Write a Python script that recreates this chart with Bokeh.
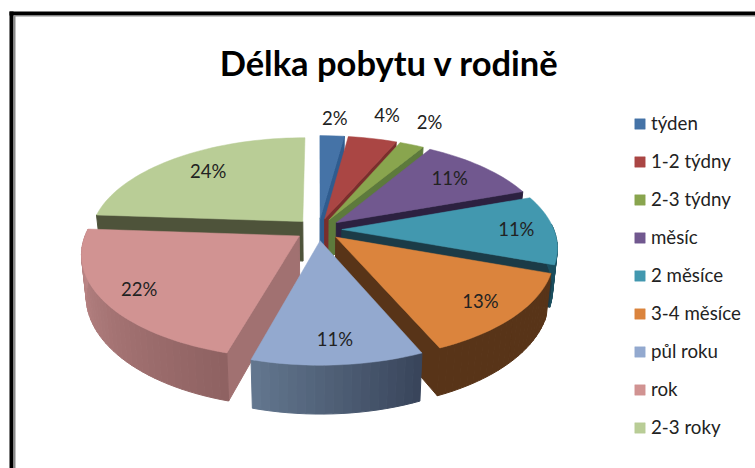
import numpy as np
from bokeh.plotting import figure
from bokeh.models import Range1d, Legend, LegendItem
from bokeh.core.properties import value
from bokeh.embed import file_html
from bokeh.resources import INLINE

# ---- data ----
TITLE = "Délka pobytu v rodině"
categories = ["týden", "1-2 týdny", "2-3 týdny", "měsíc", "2 měsíce", "3-4 měsíce", "půl roku", "rok", "2-3 roky"]
counts = [1, 2, 1, 5, 5, 6, 5, 10, 11]

# ---- colours ----
top_colors = ["#4573A7", "#AA4644", "#89A54E", "#71588F", "#4298AF", "#DB843D", "#93A9CF", "#D19392", "#B9CD96"]
cut_colors = ["#2F5C8F", "#7A2E2C", "#5D7A3C", "#2C2140", "#1B3B47", "#583418", "#5A6D88", "#A17171", "#4E533A"]
rim_start = ["#2F5C8F", "#7A2E2C", "#5D7A3C", "#2C2140", "#1B4F5F", "#583418", "#38445A", "#8E6161", "#4E533A"]
rim_end = ["#2F5C8F", "#7A2E2C", "#5D7A3C", "#2C2140", "#1B4F5F", "#583418", "#63778F", "#C08A8A", "#4E533A"]

# ---- layout: perspective model of the pie (picture pixels) ----
W, H = 755, 468
CX, CY, AX, BY, PERSP, EXPLODE, DEPTH, BOTTOM_SCALE = 318, 229, 212, 100, 0.164, 0.11, 40, 0.98
LABEL_RHO = [1.375, 1.458, 1.445, 0.875, 0.934, 0.938, 0.934, 0.944, 0.870]
LABEL_DA = [0.0, 0.2, -1.3, -0.4, -0.4, 0.2, -0.1, -0.1, 1.6]
TEXT_COLOR = "#222222"
FONT = value("Lato")


def project(X, Y, bottom=False):
    s = 1.0 / (1.0 + PERSP * Y)
    x = AX * s * X
    y = CY - BY * s * Y
    if bottom:
        x *= BOTTOM_SCALE
        y += DEPTH * s
    return CX + x, y


def mix(c1, c2, t):
    a = [int(c1[i:i + 2], 16) for i in (1, 3, 5)]
    b = [int(c2[i:i + 2], 16) for i in (1, 3, 5)]
    return "#%02x%02x%02x" % tuple(int(round(a[k] + (b[k] - a[k]) * t)) for k in range(3))


p = figure(width=W, height=H, output_backend="svg", toolbar_location=None,
           x_range=Range1d(0, W), y_range=Range1d(H, 0), min_border=0,
           outline_line_color=None, background_fill_color="white", border_fill_color="white")
p.axis.visible = False
p.grid.visible = False

# frame of the pasted picture
p.line([9, W], [13, 13], line_color="black", line_width=4)
p.line([13, W], [15.5, 15.5], line_color="#8a8a8a", line_width=1)
p.line([11, 11], [11, H], line_color="black", line_width=4)
p.line([14, 14], [15, H], line_color="#8a8a8a", line_width=2)

total = sum(counts)
edges = np.cumsum([0] + counts) / total * 2 * np.pi
mids = (edges[:-1] + edges[1:]) / 2
order = np.argsort(-np.cos(mids))

tops = {}
for i in order:
    t0, t1, mid = edges[i], edges[i + 1], mids[i]
    ox, oy = EXPLODE * np.sin(mid), EXPLODE * np.cos(mid)
    th = np.linspace(t0, t1, max(3, int(np.degrees(t1 - t0) / 2) + 1))
    rx, ry = ox + np.sin(th), oy + np.cos(th)
    xs, ys = [], []
    colors = []
    # radial cuts facing the viewer
    for ang, vis in ((t0, np.sin(t0) < 0), (t1, np.sin(t1) > 0)):
        if vis:
            ex, ey = ox + np.sin(ang), oy + np.cos(ang)
            a = project(ox, oy)
            b = project(ex, ey)
            c = project(ex, ey, True)
            d = project(ox, oy, True)
            xs.append([a[0], b[0], c[0], d[0]])
            ys.append([a[1], b[1], c[1], d[1]])
            colors.append(cut_colors[i])
    # rim, in short shaded pieces
    for k in range(len(th) - 1):
        if np.cos(th[k]) > 0.05 and np.cos(th[k + 1]) > 0.05:
            continue
        a = project(rx[k], ry[k])
        b = project(rx[k + 1], ry[k + 1])
        c = project(rx[k + 1], ry[k + 1], True)
        d = project(rx[k], ry[k], True)
        xs.append([a[0], b[0], c[0], d[0]])
        ys.append([a[1], b[1], c[1], d[1]])
        colors.append(mix(rim_start[i], rim_end[i], (k + 0.5) / (len(th) - 1)))
    if xs:
        p.patches(xs, ys, fill_color=colors, line_color=colors, line_width=1)
    tx, ty = project(np.r_[ox, rx], np.r_[oy, ry])
    tops[i] = p.patch(list(tx), list(ty), fill_color=top_colors[i], line_color=top_colors[i], line_width=0.5)

# value labels
lab = [f"{round(100 * v / total)}%" for v in counts]
ang = mids + np.radians(LABEL_DA)
lx, ly = project(np.array(LABEL_RHO) * np.sin(ang), np.array(LABEL_RHO) * np.cos(ang))
p.text(list(lx), list(ly), text=lab, text_font=FONT, text_font_size="18.5px", text_color=TEXT_COLOR,
       text_align="center", text_baseline="middle")

# title
p.text([389], [62], text=[TITLE], text_font=FONT, text_font_size="34.5px", text_font_style="bold",
       text_color="black", text_align="center", text_baseline="alphabetic")

legend = Legend(items=[LegendItem(label=c, renderers=[tops[i]]) for i, c in enumerate(categories)],
                location=(633, 30), orientation="vertical", padding=0, margin=0, spacing=16,
                glyph_width=13, glyph_height=13, label_standoff=5, label_height=22,
                label_text_font="Lato", label_text_font_size="18.7px", label_text_color=TEXT_COLOR,
                background_fill_alpha=0, border_line_color=None)
p.add_layout(legend, "center")

open("out.html", "w").write(file_html(p, INLINE))
